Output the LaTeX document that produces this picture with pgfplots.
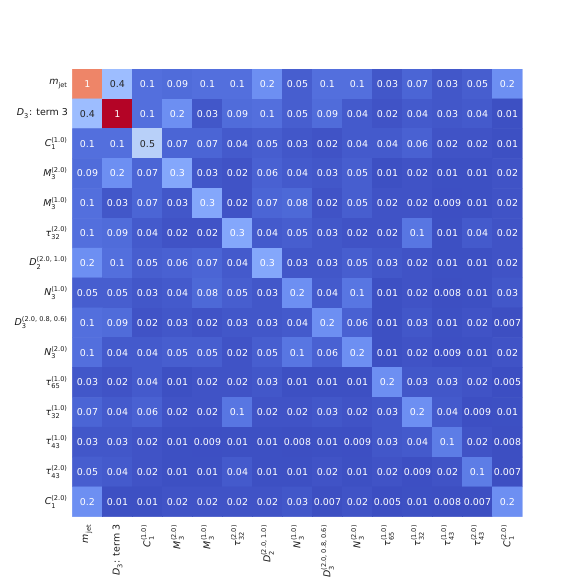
\documentclass[border=0pt]{standalone}
\usepackage{pgfplots}
\pgfplotsset{compat=1.18}
\usepackage{pgfplotstable}
\usepackage{amsmath}
\usepackage{fontspec}
\setmainfont{DejaVu Sans}
\definecolor{labd}{rgb}{0.15,0.15,0.15}
\pgfplotsset{colormap={coolwarm}{
rgb255=(59,76,192) rgb255=(68,90,204) rgb255=(77,104,215) rgb255=(87,117,225)
rgb255=(98,130,234) rgb255=(108,142,241) rgb255=(119,154,247) rgb255=(130,165,251)
rgb255=(141,176,254) rgb255=(152,185,255) rgb255=(163,194,255) rgb255=(174,201,253)
rgb255=(184,208,249) rgb255=(194,213,244) rgb255=(204,217,238) rgb255=(213,219,230)
rgb255=(221,221,221) rgb255=(229,216,209) rgb255=(236,211,197) rgb255=(241,204,184)
rgb255=(245,196,172) rgb255=(247,187,160) rgb255=(247,177,148) rgb255=(247,166,137)
rgb255=(244,154,123) rgb255=(241,141,111) rgb255=(236,127,99) rgb255=(229,112,89)
rgb255=(222,96,77) rgb255=(213,80,66) rgb255=(203,62,56) rgb255=(192,40,47)
rgb255=(180,4,38)}}
\newcommand{\lab}[3]{$\textit{#1}_{\text{#2}}^{\text{#3}}$}
\pgfplotstableread{
x y c t k
0 0 1 1 1
1 0 0.37 0.4 0
2 0 0.1 0.1 1
3 0 0.09 0.09 1
4 0 0.1 0.1 1
5 0 0.1 0.1 1
6 0 0.2 0.2 1
7 0 0.05 0.05 1
8 0 0.1 0.1 1
9 0 0.1 0.1 1
10 0 0.03 0.03 1
11 0 0.07 0.07 1
12 0 0.03 0.03 1
13 0 0.05 0.05 1
14 0 0.2 0.2 1
0 1 0.37 0.4 0
1 1 1.25 1 1
2 1 0.1 0.1 1
3 1 0.2 0.2 1
4 1 0.03 0.03 1
5 1 0.09 0.09 1
6 1 0.1 0.1 1
7 1 0.05 0.05 1
8 1 0.09 0.09 1
9 1 0.04 0.04 1
10 1 0.02 0.02 1
11 1 0.04 0.04 1
12 1 0.03 0.03 1
13 1 0.04 0.04 1
14 1 0.01 0.01 1
0 2 0.1 0.1 1
1 2 0.1 0.1 1
2 2 0.47 0.5 0
3 2 0.07 0.07 1
4 2 0.07 0.07 1
5 2 0.04 0.04 1
6 2 0.05 0.05 1
7 2 0.03 0.03 1
8 2 0.02 0.02 1
9 2 0.04 0.04 1
10 2 0.04 0.04 1
11 2 0.06 0.06 1
12 2 0.02 0.02 1
13 2 0.02 0.02 1
14 2 0.01 0.01 1
0 3 0.09 0.09 1
1 3 0.2 0.2 1
2 3 0.07 0.07 1
3 3 0.28 0.3 1
4 3 0.03 0.03 1
5 3 0.02 0.02 1
6 3 0.06 0.06 1
7 3 0.04 0.04 1
8 3 0.03 0.03 1
9 3 0.05 0.05 1
10 3 0.01 0.01 1
11 3 0.02 0.02 1
12 3 0.01 0.01 1
13 3 0.01 0.01 1
14 3 0.02 0.02 1
0 4 0.1 0.1 1
1 4 0.03 0.03 1
2 4 0.07 0.07 1
3 4 0.03 0.03 1
4 4 0.28 0.3 1
5 4 0.02 0.02 1
6 4 0.07 0.07 1
7 4 0.08 0.08 1
8 4 0.02 0.02 1
9 4 0.05 0.05 1
10 4 0.02 0.02 1
11 4 0.02 0.02 1
12 4 0.009 0.009 1
13 4 0.01 0.01 1
14 4 0.02 0.02 1
0 5 0.1 0.1 1
1 5 0.09 0.09 1
2 5 0.04 0.04 1
3 5 0.02 0.02 1
4 5 0.02 0.02 1
5 5 0.28 0.3 1
6 5 0.04 0.04 1
7 5 0.05 0.05 1
8 5 0.03 0.03 1
9 5 0.02 0.02 1
10 5 0.02 0.02 1
11 5 0.12 0.1 1
12 5 0.01 0.01 1
13 5 0.04 0.04 1
14 5 0.02 0.02 1
0 6 0.2 0.2 1
1 6 0.1 0.1 1
2 6 0.05 0.05 1
3 6 0.06 0.06 1
4 6 0.07 0.07 1
5 6 0.04 0.04 1
6 6 0.28 0.3 1
7 6 0.03 0.03 1
8 6 0.03 0.03 1
9 6 0.05 0.05 1
10 6 0.03 0.03 1
11 6 0.02 0.02 1
12 6 0.01 0.01 1
13 6 0.01 0.01 1
14 6 0.02 0.02 1
0 7 0.05 0.05 1
1 7 0.05 0.05 1
2 7 0.03 0.03 1
3 7 0.04 0.04 1
4 7 0.08 0.08 1
5 7 0.05 0.05 1
6 7 0.03 0.03 1
7 7 0.2 0.2 1
8 7 0.04 0.04 1
9 7 0.12 0.1 1
10 7 0.01 0.01 1
11 7 0.02 0.02 1
12 7 0.008 0.008 1
13 7 0.01 0.01 1
14 7 0.03 0.03 1
0 8 0.1 0.1 1
1 8 0.09 0.09 1
2 8 0.02 0.02 1
3 8 0.03 0.03 1
4 8 0.02 0.02 1
5 8 0.03 0.03 1
6 8 0.03 0.03 1
7 8 0.04 0.04 1
8 8 0.2 0.2 1
9 8 0.06 0.06 1
10 8 0.01 0.01 1
11 8 0.03 0.03 1
12 8 0.01 0.01 1
13 8 0.02 0.02 1
14 8 0.007 0.007 1
0 9 0.1 0.1 1
1 9 0.04 0.04 1
2 9 0.04 0.04 1
3 9 0.05 0.05 1
4 9 0.05 0.05 1
5 9 0.02 0.02 1
6 9 0.05 0.05 1
7 9 0.12 0.1 1
8 9 0.06 0.06 1
9 9 0.2 0.2 1
10 9 0.01 0.01 1
11 9 0.02 0.02 1
12 9 0.009 0.009 1
13 9 0.01 0.01 1
14 9 0.02 0.02 1
0 10 0.03 0.03 1
1 10 0.02 0.02 1
2 10 0.04 0.04 1
3 10 0.01 0.01 1
4 10 0.02 0.02 1
5 10 0.02 0.02 1
6 10 0.03 0.03 1
7 10 0.01 0.01 1
8 10 0.01 0.01 1
9 10 0.01 0.01 1
10 10 0.2 0.2 1
11 10 0.03 0.03 1
12 10 0.03 0.03 1
13 10 0.02 0.02 1
14 10 0.005 0.005 1
0 11 0.07 0.07 1
1 11 0.04 0.04 1
2 11 0.06 0.06 1
3 11 0.02 0.02 1
4 11 0.02 0.02 1
5 11 0.12 0.1 1
6 11 0.02 0.02 1
7 11 0.02 0.02 1
8 11 0.03 0.03 1
9 11 0.02 0.02 1
10 11 0.03 0.03 1
11 11 0.2 0.2 1
12 11 0.04 0.04 1
13 11 0.009 0.009 1
14 11 0.01 0.01 1
0 12 0.03 0.03 1
1 12 0.03 0.03 1
2 12 0.02 0.02 1
3 12 0.01 0.01 1
4 12 0.009 0.009 1
5 12 0.01 0.01 1
6 12 0.01 0.01 1
7 12 0.008 0.008 1
8 12 0.01 0.01 1
9 12 0.009 0.009 1
10 12 0.03 0.03 1
11 12 0.04 0.04 1
12 12 0.14 0.1 1
13 12 0.02 0.02 1
14 12 0.008 0.008 1
0 13 0.05 0.05 1
1 13 0.04 0.04 1
2 13 0.02 0.02 1
3 13 0.01 0.01 1
4 13 0.01 0.01 1
5 13 0.04 0.04 1
6 13 0.01 0.01 1
7 13 0.01 0.01 1
8 13 0.02 0.02 1
9 13 0.01 0.01 1
10 13 0.02 0.02 1
11 13 0.009 0.009 1
12 13 0.02 0.02 1
13 13 0.14 0.1 1
14 13 0.007 0.007 1
0 14 0.2 0.2 1
1 14 0.01 0.01 1
2 14 0.01 0.01 1
3 14 0.02 0.02 1
4 14 0.02 0.02 1
5 14 0.02 0.02 1
6 14 0.02 0.02 1
7 14 0.03 0.03 1
8 14 0.007 0.007 1
9 14 0.02 0.02 1
10 14 0.005 0.005 1
11 14 0.01 0.01 1
12 14 0.008 0.008 1
13 14 0.007 0.007 1
14 14 0.2 0.2 1
}\corrdata
\begin{document}
\begin{tikzpicture}
\useasboundingbox (0,0) rectangle (418.32pt,418.32pt);
\begin{axis}[
  at={(52.2pt,46.3pt)}, anchor=south west,
  scale only axis, width=324pt, height=322.3pt,
  xmin=-0.5, xmax=14.5, ymin=-0.5, ymax=14.5,
  y dir=reverse, enlargelimits=false,
  axis line style={draw=none}, major tick length=0pt,
  colormap name=coolwarm, point meta min=0, point meta max=1.25,
  xtick={0,...,14}, ytick={0,...,14},
  xticklabels={\lab{m}{jet}{}, {\lab{D}{3}{}: term 3}, \lab{C}{1}{(1.0)}, \lab{M}{3}{(2.0)}, \lab{M}{3}{(1.0)}, \lab{τ}{32}{(2.0)}, {\lab{D}{2}{(2.0, 1.0)}}, \lab{N}{3}{(1.0)}, {\lab{D}{3}{(2.0, 0.8, 0.6)}}, \lab{N}{3}{(2.0)}, \lab{τ}{65}{(1.0)}, \lab{τ}{32}{(1.0)}, \lab{τ}{43}{(1.0)}, \lab{τ}{43}{(2.0)}, \lab{C}{1}{(2.0)}},
  yticklabels={\lab{m}{jet}{}, {\lab{D}{3}{}: term 3}, \lab{C}{1}{(1.0)}, \lab{M}{3}{(2.0)}, \lab{M}{3}{(1.0)}, \lab{τ}{32}{(2.0)}, {\lab{D}{2}{(2.0, 1.0)}}, \lab{N}{3}{(1.0)}, {\lab{D}{3}{(2.0, 0.8, 0.6)}}, \lab{N}{3}{(2.0)}, \lab{τ}{65}{(1.0)}, \lab{τ}{32}{(1.0)}, \lab{τ}{43}{(1.0)}, \lab{τ}{43}{(2.0)}, \lab{C}{1}{(2.0)}},
  tick label style={font=\fontsize{6.8}{8}\selectfont, text=black!90},
  xticklabel style={rotate=90, anchor=east, inner sep=0pt},
  yticklabel style={anchor=east, inner sep=0pt},
  xticklabel shift=5.5pt, yticklabel shift=3.2pt,
]
\addplot[matrix plot*, mesh/cols=15, point meta=explicit] table[x=x, y=y, meta=c] {\corrdata};
\addplot[only marks, mark=none, point meta=explicit symbolic,
  restrict expr to domain={\thisrow{k}}{0.5:1.5},
  nodes near coords, nodes near coords align=center,
  every node near coord/.append style={font=\fontsize{6.8}{8}\selectfont, inner sep=0pt, anchor=center, text=white}]
  table[x=x, y=y, meta=t] {\corrdata};
\addplot[only marks, mark=none, point meta=explicit symbolic,
  restrict expr to domain={\thisrow{k}}{-0.5:0.5},
  nodes near coords, nodes near coords align=center,
  every node near coord/.append style={font=\fontsize{6.8}{8}\selectfont, inner sep=0pt, anchor=center, text=labd}]
  table[x=x, y=y, meta=t] {\corrdata};
\end{axis}
\end{tikzpicture}
\end{document}
